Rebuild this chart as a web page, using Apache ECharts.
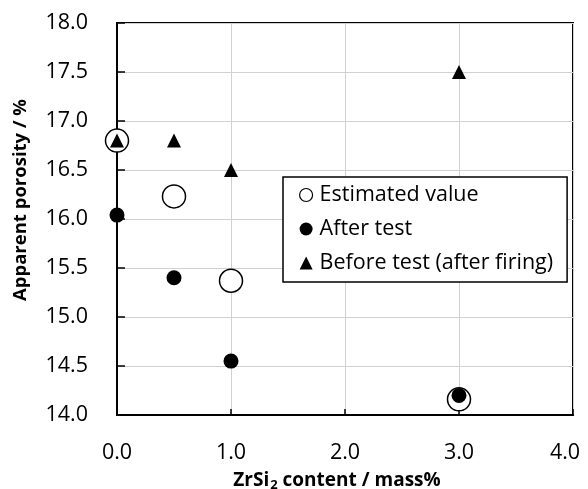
<!DOCTYPE html>
<html><head><meta charset="utf-8">
<script src="https://cdn.jsdelivr.net/npm/echarts@6/dist/echarts.min.js"></script>
<style>html,body{margin:0;padding:0;background:#fff}#c{width:588px;height:489px}</style>
</head><body><div id="c"></div>
<script>
const estimatedX = [0, 0.5, 1, 3];
const estimatedY = [16.8, 16.23, 15.37, 14.16];
const afterX = [0, 0.5, 1, 3];
const afterY = [16.04, 15.4, 14.55, 14.2];
const beforeX = [0, 0.5, 1, 3];
const beforeY = [16.8, 16.8, 16.5, 17.5];
const seriesNames = ['Estimated value', 'After test', 'Before test (after firing)'];

const zip = (xs, ys) => xs.map((x, i) => [x, ys[i]]);
const font = 'Open Sans';
const chart = echarts.init(document.getElementById('c'));
chart.setOption({
  animation: false,
  textStyle: {fontFamily: font},
  grid: {left: 117, right: 15, top: 23, bottom: 74, show: true, borderColor: '#000', borderWidth: 2,
    backgroundColor: 'transparent', containLabel: false, outerBoundsMode: 'none'},
  xAxis: {
    type: 'value', min: 0, max: 4, interval: 1,
    name: 'ZrSi{s|2} content / mass%', nameLocation: 'middle', nameGap: 54, nameMoveOverlap: false,
    nameTextStyle: {fontSize: 19, fontWeight: 'bold', color: '#000', fontFamily: font, padding: [0, 16, 0, 0],
      rich: {s: {fontSize: 13, fontWeight: 'bold', verticalAlign: 'bottom', padding: [10,0,0,1], fontFamily: font}}},
    axisLine: {lineStyle: {color: '#000', width: 2}},
    axisTick: {inside: true, length: 6, lineStyle: {color: '#000', width: 1.5}},
    axisLabel: {fontSize: 21.5, color: '#000', margin: 27,
      formatter: v => v === 4 ? '{r|' + v.toFixed(1) + '}' : v.toFixed(1),
      rich: {r: {fontSize: 21.5, color: '#000', fontFamily: font, padding: [0, 16, 0, 0]}}},
    splitLine: {show: true, lineStyle: {color: '#d0d0d0', width: 1}}
  },
  yAxis: {
    type: 'value', min: 14, max: 18, interval: 0.5,
    name: 'Apparent porosity / %', nameLocation: 'middle', nameGap: 87, nameMoveOverlap: false,
    nameTextStyle: {fontSize: 18.5, fontWeight: 'bold', color: '#000', fontFamily: font, padding: [0, 0, 0, 38]},
    axisLine: {lineStyle: {color: '#000', width: 2}},
    axisTick: {inside: true, length: 8, lineStyle: {color: '#000', width: 1.5}},
    axisLabel: {fontSize: 21.5, color: '#000', margin: 29, formatter: v => v.toFixed(1)},
    splitLine: {show: true, lineStyle: {color: '#d0d0d0', width: 1}}
  },
  legend: {
    orient: 'vertical', left: 283, top: 177,
    padding: [7, 14, 8, 16], itemGap: 12, itemWidth: 13, itemHeight: 13,
    borderColor: '#000', borderWidth: 1.5, backgroundColor: '#fff',
    textStyle: {fontSize: 21.5, color: '#000', fontFamily: font, lineHeight: 22, padding: [0, 0, 0, 2]},
    data: [
      {name: seriesNames[0], icon: 'circle', itemStyle: {color: '#fff', borderColor: '#000', borderWidth: 1.2}},
      {name: seriesNames[1], icon: 'circle'},
      {name: seriesNames[2], icon: 'triangle'}
    ]
  },
  series: [
    {name: seriesNames[0], type: 'scatter', symbol: 'circle', symbolSize: 23, clip: false,
      itemStyle: {color: '#fff', borderColor: '#000', borderWidth: 1.5, opacity: 1}, data: zip(estimatedX, estimatedY), z: 3},
    {name: seriesNames[1], type: 'scatter', symbol: 'circle', symbolSize: 15, clip: false,
      itemStyle: {color: '#000', opacity: 1}, data: zip(afterX, afterY), z: 4},
    {name: seriesNames[2], type: 'scatter', symbol: 'triangle', symbolSize: 14, clip: false,
      itemStyle: {color: '#000', opacity: 1}, data: zip(beforeX, beforeY), z: 5}
  ]
});
</script></body></html>
